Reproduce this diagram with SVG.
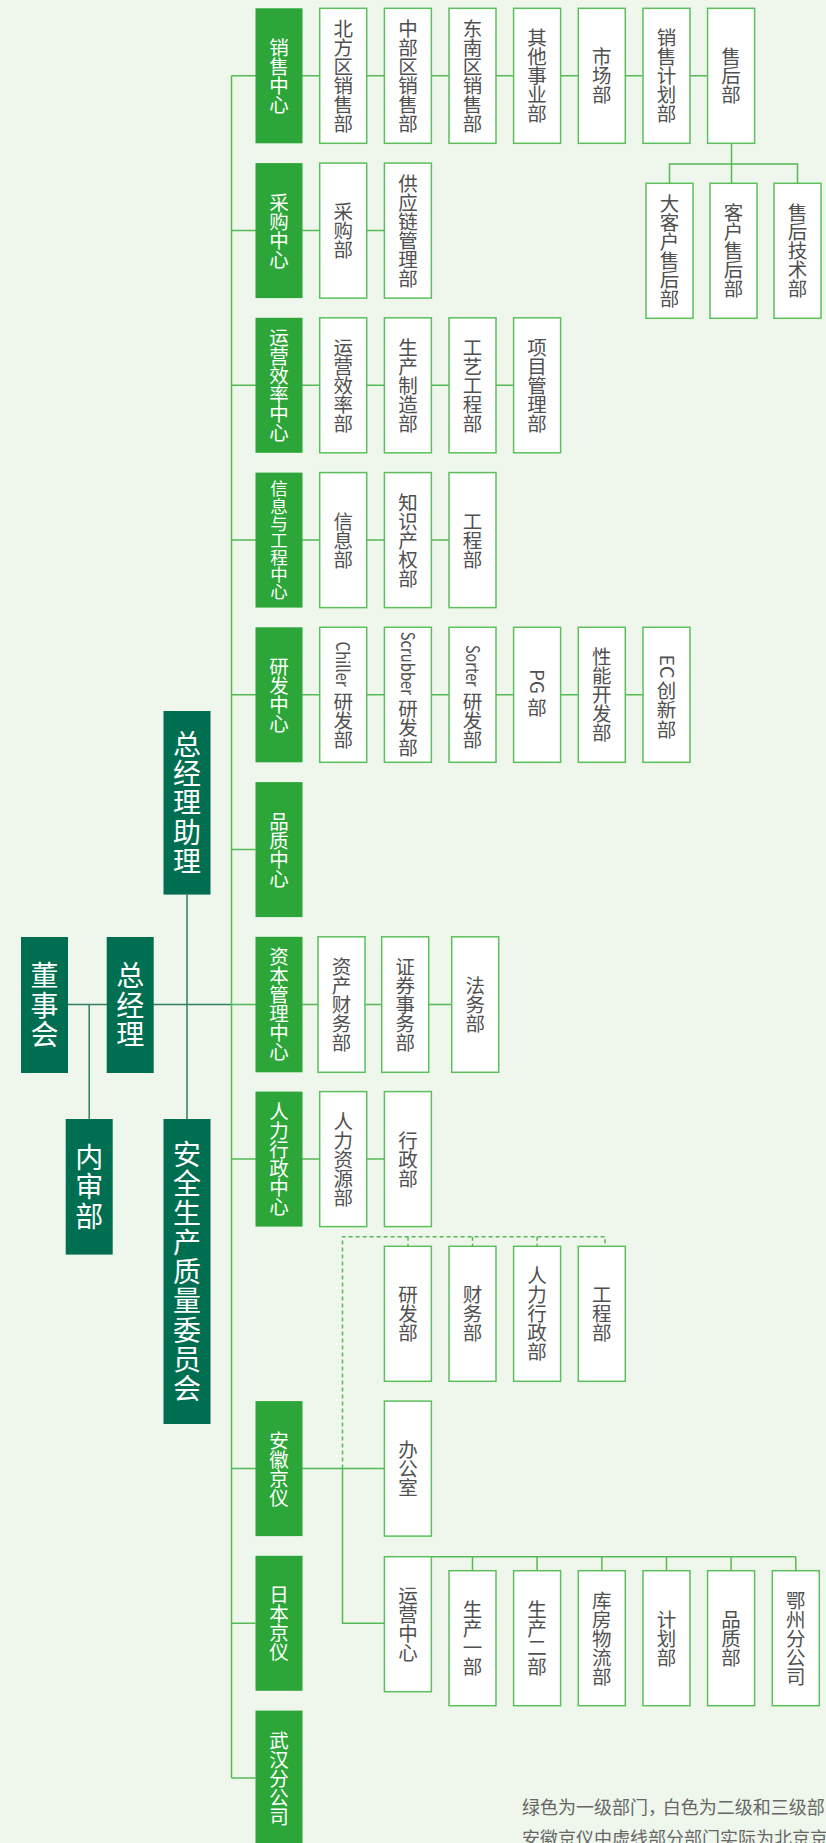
<svg xmlns="http://www.w3.org/2000/svg" width="826" height="1843" viewBox="0 0 826 1843">
<style>
.dk{fill:#006f51}
.gr{fill:#2ca638}
.wh{fill:#ffffff;stroke:#5cbf5c;stroke-width:1.5}
text{font-family:"Noto Sans CJK SC","Noto Sans",sans-serif;text-anchor:middle}
.tw{fill:#ffffff;font-size:19.5px}
.tw7{fill:#ffffff;font-size:17.5px}
.tb{fill:#ffffff;font-size:28px}
.tg{fill:#505050;font-size:19.5px}
.lat{fill:#505050;font-size:18px;text-anchor:start}
.note{fill:#666666;font-size:18px;text-anchor:start}
.ln{fill:none;stroke:#55b955;stroke-width:1.5}
.lnd{fill:none;stroke:#2f7f64;stroke-width:1.5}
.dash{fill:none;stroke:#55b955;stroke-width:1.5;stroke-dasharray:4 3}
</style>
<rect x="0" y="0" width="826" height="1843" fill="#eff7ec"/>
<g id="connectors">
<path class="lnd" d="M67.7 1004.5 H231.5 M89.2 1004.5 V1119 M187 894.6 V1119"/>
<path class="ln" d="M231.5 75.8 V1778.1"/>
<path class="ln" d="M231.5 75.8 H707.6 M231.5 230.6 H384.4 M231.5 385.3 H513.6 M231.5 540.1 H449 M231.5 694.8 H643 M231.5 849.6 H255.5 M231.5 1004.5 H451.7 M231.5 1159.1 H384.4 M231.5 1468.6 H384.4 M231.5 1623.3 H255.5 M231.5 1778.1 H255.5"/>
<path class="ln" d="M731.5 143.3 V183.3 M669.5 183.3 V164 H797.5 V183.3"/>
<path class="dash" d="M342.5 1468.6 V1236.7 H605 V1246.3 M408 1236.7 V1246.3 M472.5 1236.7 V1246.3 M537.1 1236.7 V1246.3"/>
<path class="ln" d="M342.5 1468.6 V1623.3 H384.4 M384.4 1556.7 H795.8 M472.5 1556.7 V1570.7 M537.1 1556.7 V1570.7 M601.8 1556.7 V1570.7 M666.5 1556.7 V1570.7 M731.1 1556.7 V1570.7 M795.8 1556.7 V1570.7"/>
</g>

<g id="dongshihui"><rect class="dk" x="21" y="937" width="47" height="136"/><text class="tb" x="44.5 44.5 44.5" y="986.3 1015.6 1044.9">董事会</text></g>
<g id="zongjingli"><rect class="dk" x="106.7" y="937" width="47" height="136"/><text class="tb" x="130.2 130.2 130.2" y="986.3 1015.6 1044.9">总经理</text></g>
<g id="neishenbu"><rect class="dk" x="65.7" y="1119" width="47" height="135.6"/><text class="tb" x="89.2 89.2 89.2" y="1168.1 1197.4 1226.7">内审部</text></g>
<g id="zongjinglizhuli"><rect class="dk" x="163.5" y="711" width="47" height="183.6"/><text class="tb" x="187 187 187 187 187" y="754.8 784.1 813.4 842.7 872">总经理助理</text></g>
<g id="anquan"><rect class="dk" x="163.5" y="1119" width="47" height="305"/><text class="tb" x="187 187 187 187 187 187 187 187 187" y="1164.9 1194.2 1223.5 1252.8 1282.1 1311.4 1340.7 1370 1399.3">安全生产质量委员会</text></g>

<g id="xiaoshou"><rect class="gr" x="255.5" y="8.3" width="47" height="135"/><text class="tw" x="279 279 279 279" y="54.7 73.7 92.7 111.7">销售中心</text></g>
<g id="beifang"><rect class="wh" x="319.7" y="8.3" width="47" height="135"/><text class="tg" x="343.2 343.2 343.2 343.2 343.2 343.2" y="35.7 54.7 73.7 92.7 111.7 130.7">北方区销售部</text></g>
<g id="zhongbu"><rect class="wh" x="384.4" y="8.3" width="47" height="135"/><text class="tg" x="407.9 407.9 407.9 407.9 407.9 407.9" y="35.7 54.7 73.7 92.7 111.7 130.7">中部区销售部</text></g>
<g id="dongnan"><rect class="wh" x="449" y="8.3" width="47" height="135"/><text class="tg" x="472.5 472.5 472.5 472.5 472.5 472.5" y="35.7 54.7 73.7 92.7 111.7 130.7">东南区销售部</text></g>
<g id="qita"><rect class="wh" x="513.6" y="8.3" width="47" height="135"/><text class="tg" x="537.1 537.1 537.1 537.1 537.1" y="45.2 64.2 83.2 102.2 121.2">其他事业部</text></g>
<g id="shichang"><rect class="wh" x="578.3" y="8.3" width="47" height="135"/><text class="tg" x="601.8 601.8 601.8" y="64.2 83.2 102.2">市场部</text></g>
<g id="xiaoshoujihua"><rect class="wh" x="643" y="8.3" width="47" height="135"/><text class="tg" x="666.5 666.5 666.5 666.5 666.5" y="45.2 64.2 83.2 102.2 121.2">销售计划部</text></g>
<g id="shouhou"><rect class="wh" x="707.6" y="8.3" width="47" height="135"/><text class="tg" x="731.1 731.1 731.1" y="64.2 83.2 102.2">售后部</text></g>
<g id="dakehu"><rect class="wh" x="646" y="183.3" width="47" height="135"/><text class="tg" x="669.5 669.5 669.5 669.5 669.5 669.5" y="210.7 229.7 248.7 267.7 286.7 305.7">大客户售后部</text></g>
<g id="kehu"><rect class="wh" x="710" y="183.3" width="47" height="135"/><text class="tg" x="733.5 733.5 733.5 733.5 733.5" y="220.2 239.2 258.2 277.2 296.2">客户售后部</text></g>
<g id="shouhoujishu"><rect class="wh" x="774" y="183.3" width="47" height="135"/><text class="tg" x="797.5 797.5 797.5 797.5 797.5" y="220.2 239.2 258.2 277.2 296.2">售后技术部</text></g>

<g id="caigou"><rect class="gr" x="255.5" y="163.1" width="47" height="135"/><text class="tw" x="279 279 279 279" y="209.5 228.5 247.5 266.5">采购中心</text></g>
<g id="caigoubu"><rect class="wh" x="319.7" y="163.1" width="47" height="135"/><text class="tg" x="343.2 343.2 343.2" y="219 238 257">采购部</text></g>
<g id="gongyinglian"><rect class="wh" x="384.4" y="163.1" width="47" height="135"/><text class="tg" x="407.9 407.9 407.9 407.9 407.9 407.9" y="190.5 209.5 228.5 247.5 266.5 285.5">供应链管理部</text></g>

<g id="yunying"><rect class="gr" x="255.5" y="317.8" width="47" height="135"/><text class="tw" x="279 279 279 279 279 279" y="345.2 364.2 383.2 402.2 421.2 440.2">运营效率中心</text></g>
<g id="yunyingbu"><rect class="wh" x="319.7" y="317.8" width="47" height="135"/><text class="tg" x="343.2 343.2 343.2 343.2 343.2" y="354.7 373.7 392.7 411.7 430.7">运营效率部</text></g>
<g id="shengchanzhizao"><rect class="wh" x="384.4" y="317.8" width="47" height="135"/><text class="tg" x="407.9 407.9 407.9 407.9 407.9" y="354.7 373.7 392.7 411.7 430.7">生产制造部</text></g>
<g id="gongyi"><rect class="wh" x="449" y="317.8" width="47" height="135"/><text class="tg" x="472.5 472.5 472.5 472.5 472.5" y="354.7 373.7 392.7 411.7 430.7">工艺工程部</text></g>
<g id="xiangmu"><rect class="wh" x="513.6" y="317.8" width="47" height="135"/><text class="tg" x="537.1 537.1 537.1 537.1 537.1" y="354.7 373.7 392.7 411.7 430.7">项目管理部</text></g>

<g id="xinxi"><rect class="gr" x="255.5" y="472.6" width="47" height="135"/><text class="tw7" x="279 279 279 279 279 279 279" y="495.45 512.55 529.65 546.75 563.85 580.95 598.05">信息与工程中心</text></g>
<g id="xinxibu"><rect class="wh" x="319.7" y="472.6" width="47" height="135"/><text class="tg" x="343.2 343.2 343.2" y="528.5 547.5 566.5">信息部</text></g>
<g id="zhishi"><rect class="wh" x="384.4" y="472.6" width="47" height="135"/><text class="tg" x="407.9 407.9 407.9 407.9 407.9" y="509.5 528.5 547.5 566.5 585.5">知识产权部</text></g>
<g id="gongcheng"><rect class="wh" x="449" y="472.6" width="47" height="135"/><text class="tg" x="472.5 472.5 472.5" y="528.5 547.5 566.5">工程部</text></g>

<g id="yanfa"><rect class="gr" x="255.5" y="627.3" width="47" height="135"/><text class="tw" x="279 279 279 279" y="673.7 692.7 711.7 730.7">研发中心</text></g>
<g id="chiller"><rect class="wh" x="319.7" y="627.3" width="47" height="135"/><text class="lat" transform="translate(336.2 641.7) rotate(90)" x="0" y="0" textLength="45" lengthAdjust="spacingAndGlyphs">Chiller</text><text class="tg" x="343.2 343.2 343.2" y="709.1 727.9 747.4">研发部</text></g>
<g id="scrubber"><rect class="wh" x="384.4" y="627.3" width="47" height="135"/><text class="lat" transform="translate(400.9 631.7) rotate(90)" x="0" y="0" textLength="63.3" lengthAdjust="spacingAndGlyphs">Scrubber</text><text class="tg" x="407.9 407.9 407.9" y="715.7 735.2 755">研发部</text></g>
<g id="sorter"><rect class="wh" x="449" y="627.3" width="47" height="135"/><text class="lat" transform="translate(465.5 645) rotate(90)" x="0" y="0" textLength="41.7" lengthAdjust="spacingAndGlyphs">Sorter</text><text class="tg" x="472.5 472.5 472.5" y="709.1 727.9 747.4">研发部</text></g>
<g id="pg"><rect class="wh" x="513.6" y="627.3" width="47" height="135"/><text class="lat" transform="translate(530.1 669) rotate(90)" x="0" y="0" textLength="25" lengthAdjust="spacingAndGlyphs">PG</text><text class="tg" x="537.1" y="714.9">部</text></g>
<g id="xingneng"><rect class="wh" x="578.3" y="627.3" width="47" height="135"/><text class="tg" x="601.8 601.8 601.8 601.8 601.8" y="664.2 683.2 702.2 721.2 740.2">性能开发部</text></g>
<g id="ec"><rect class="wh" x="643" y="627.3" width="47" height="135"/><text class="lat" transform="translate(659.5 654.5) rotate(90)" x="0" y="0" textLength="24" lengthAdjust="spacingAndGlyphs">EC</text><text class="tg" x="666.5 666.5 666.5" y="698.4 717.4 737.4">创新部</text></g>

<g id="pinzhi"><rect class="gr" x="255.5" y="782.1" width="47" height="135"/><text class="tw" x="279 279 279 279" y="828.5 847.5 866.5 885.5">品质中心</text></g>

<g id="ziben"><rect class="gr" x="255.5" y="936.8" width="47" height="135.5"/><text class="tw" x="279 279 279 279 279 279" y="964.4 983.4 1002.4 1021.4 1040.4 1059.4">资本管理中心</text></g>
<g id="zichan"><rect class="wh" x="318" y="936.8" width="47" height="135.5"/><text class="tg" x="341.5 341.5 341.5 341.5 341.5" y="973.9 992.9 1011.9 1030.9 1049.9">资产财务部</text></g>
<g id="zhengquan"><rect class="wh" x="381.7" y="936.8" width="47" height="135.5"/><text class="tg" x="405.2 405.2 405.2 405.2 405.2" y="973.9 992.9 1011.9 1030.9 1049.9">证券事务部</text></g>
<g id="fawu"><rect class="wh" x="451.7" y="936.8" width="47" height="135.5"/><text class="tg" x="475.2 475.2 475.2" y="992.9 1011.9 1030.9">法务部</text></g>

<g id="renli"><rect class="gr" x="255.5" y="1091.6" width="47" height="135"/><text class="tw" x="279 279 279 279 279 279" y="1119 1138 1157 1176 1195 1214">人力行政中心</text></g>
<g id="renliziyuan"><rect class="wh" x="319.7" y="1091.6" width="47" height="135"/><text class="tg" x="343.2 343.2 343.2 343.2 343.2" y="1128.5 1147.5 1166.5 1185.5 1204.5">人力资源部</text></g>
<g id="xingzheng"><rect class="wh" x="384.4" y="1091.6" width="47" height="135"/><text class="tg" x="407.9 407.9 407.9" y="1147.5 1166.5 1185.5">行政部</text></g>

<g id="ah-yanfa"><rect class="wh" x="384.4" y="1246.3" width="47" height="135"/><text class="tg" x="407.9 407.9 407.9" y="1302.2 1321.2 1340.2">研发部</text></g>
<g id="ah-caiwu"><rect class="wh" x="449" y="1246.3" width="47" height="135"/><text class="tg" x="472.5 472.5 472.5" y="1302.2 1321.2 1340.2">财务部</text></g>
<g id="ah-renli"><rect class="wh" x="513.6" y="1246.3" width="47" height="135"/><text class="tg" x="537.1 537.1 537.1 537.1 537.1" y="1283.2 1302.2 1321.2 1340.2 1359.2">人力行政部</text></g>
<g id="ah-gongcheng"><rect class="wh" x="578.3" y="1246.3" width="47" height="135"/><text class="tg" x="601.8 601.8 601.8" y="1302.2 1321.2 1340.2">工程部</text></g>

<g id="anhui"><rect class="gr" x="255.5" y="1401.1" width="47" height="135"/><text class="tw" x="279 279 279 279" y="1447.5 1466.5 1485.5 1504.5">安徽京仪</text></g>
<g id="bangongshi"><rect class="wh" x="384.4" y="1401.1" width="47" height="135"/><text class="tg" x="407.9 407.9 407.9" y="1457 1476 1495">办公室</text></g>

<g id="riben"><rect class="gr" x="255.5" y="1555.8" width="47" height="135"/><text class="tw" x="279 279 279 279" y="1602.2 1621.2 1640.2 1659.2">日本京仪</text></g>
<g id="yunyingzhongxin"><rect class="wh" x="384.4" y="1556.7" width="47" height="135"/><text class="tg" x="407.9 407.9 407.9 407.9" y="1603.1 1622.1 1641.1 1660.1">运营中心</text></g>
<g id="shengchan1"><rect class="wh" x="449" y="1570.7" width="47" height="135"/><text class="tg" x="472.5 472.5 472.5 472.5" y="1617.1 1636.1 1655.1 1674.1">生产一部</text></g>
<g id="shengchan2"><rect class="wh" x="513.6" y="1570.7" width="47" height="135"/><text class="tg" x="537.1 537.1 537.1 537.1" y="1617.1 1636.1 1655.1 1674.1">生产二部</text></g>
<g id="kufang"><rect class="wh" x="578.3" y="1570.7" width="47" height="135"/><text class="tg" x="601.8 601.8 601.8 601.8 601.8" y="1607.6 1626.6 1645.6 1664.6 1683.6">库房物流部</text></g>
<g id="jihua"><rect class="wh" x="643" y="1570.7" width="47" height="135"/><text class="tg" x="666.5 666.5 666.5" y="1626.6 1645.6 1664.6">计划部</text></g>
<g id="pinzhibu"><rect class="wh" x="707.6" y="1570.7" width="47" height="135"/><text class="tg" x="731.1 731.1 731.1" y="1626.6 1645.6 1664.6">品质部</text></g>
<g id="ezhou"><rect class="wh" x="772.3" y="1570.7" width="47" height="135"/><text class="tg" x="795.8 795.8 795.8 795.8 795.8" y="1607.6 1626.6 1645.6 1664.6 1683.6">鄂州分公司</text></g>

<g id="wuhan"><rect class="gr" x="255.5" y="1710.6" width="47" height="135"/><text class="tw" x="279 279 279 279 279" y="1747.5 1766.5 1785.5 1804.5 1823.5">武汉分公司</text></g>

<g id="note">
<text class="note" x="522" y="1813.5">绿色为一级部门，<tspan x="662.7">白色为二级和三级部</tspan></text>
<text class="note" x="522" y="1845">安徽京仪中虚线部分部门实际为北京京</text>
</g>
</svg>
